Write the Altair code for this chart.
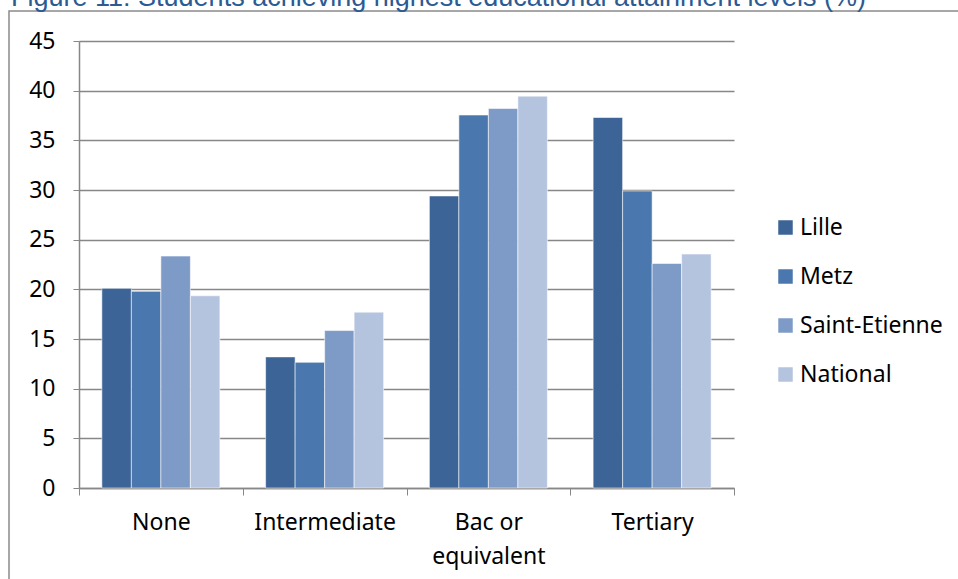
import altair as alt
import pandas as pd

# Highest educational attainment of students, by area (%)
levels = ["None", "Intermediate", "Bac or equivalent", "Tertiary"]
areas = ["Lille", "Metz", "Saint-Etienne", "National"]
lille = [20.1, 13.2, 29.4, 37.3]
metz = [19.8, 12.65, 37.55, 29.9]
saint_etienne = [23.35, 15.85, 38.2, 22.6]
national = [19.35, 17.7, 39.45, 23.55]

colors = ["#3C6496", "#4A78AE", "#7E9BC8", "#B4C3DE"]
title_text = "Figure 11: Students achieving highest educational attainment levels (%)"

rows = []
for area, vals in zip(areas, [lille, metz, saint_etienne, national]):
    for lvl, v in zip(levels, vals):
        rows.append({"level": lvl, "area": area, "pct": v})
df = pd.DataFrame(rows)

FONT = "Noto Sans"
FS = 23
GRID = "#878787"

bars = alt.Chart(df).mark_bar(
    stroke="white", strokeWidth=1, strokeOpacity=0.55
).encode(
    x=alt.X(
        "level:N",
        sort=levels,
        scale=alt.Scale(paddingInner=0, paddingOuter=0),
        axis=alt.Axis(
            title=None,
            labelAngle=0,
            labelFont=FONT,
            labelFontSize=FS,
            labelColor="black",
            labelPadding=16,
            labelLineHeight=34,
            labelExpr="datum.value == 'Bac or equivalent' ? ['Bac or', 'equivalent'] : datum.value",
            tickBand="extent",
            tickSize=7,
            tickColor=GRID,
            domainColor=GRID,
            domainWidth=1.5,
            grid=False,
        ),
    ),
    xOffset=alt.XOffset(
        "area:N", sort=areas, scale=alt.Scale(paddingInner=0, paddingOuter=0.775)
    ),
    y=alt.Y(
        "pct:Q",
        scale=alt.Scale(domain=[0, 45], nice=False),
        axis=alt.Axis(
            title=None,
            values=list(range(0, 46, 5)),
            labelFont=FONT,
            labelFontSize=FS,
            labelColor="black",
            labelPadding=18,
            tickSize=6,
            tickColor=GRID,
            domainColor=GRID,
            domainWidth=1.5,
            gridColor=GRID,
            gridWidth=1.5,
        ),
    ),
    color=alt.Color(
        "area:N",
        sort=areas,
        scale=alt.Scale(domain=areas, range=colors),
        legend=alt.Legend(
            title=None,
            orient="none",
            legendX=695,
            legendY=175,
            symbolType="square",
            symbolSize=210,
            symbolStrokeWidth=0,
            labelFont=FONT,
            labelFontSize=FS,
            labelColor="black",
            labelOffset=3,
            rowPadding=25,
        ),
    ),
)

# outer frame around the figure
frame = alt.Chart(pd.DataFrame({"k": [0]})).mark_rect(
    fill=None, stroke="#8a8a8a", strokeWidth=1.5
).encode(
    x=alt.value(-70), x2=alt.value(1000), y=alt.value(-30), y2=alt.value(700)
)

# figure caption along the top edge
caption = alt.Chart(pd.DataFrame({"t": [title_text]})).mark_text(
    align="left",
    baseline="alphabetic",
    font="Liberation Sans",
    fontSize=27,
    color="#2C5B93",
).encode(
    text="t:N", x=alt.value(-68), y=alt.value(-35)
)

chart = alt.layer(frame, caption, bars).properties(
    width=655,
    height=447,
    autosize=alt.AutoSizeParams(type="none"),
    padding={"left": 79, "top": 41, "right": 224, "bottom": 91},
).configure_view(stroke=None)

chart.save("out.html", embed_options={"renderer": "svg", "actions": False})
